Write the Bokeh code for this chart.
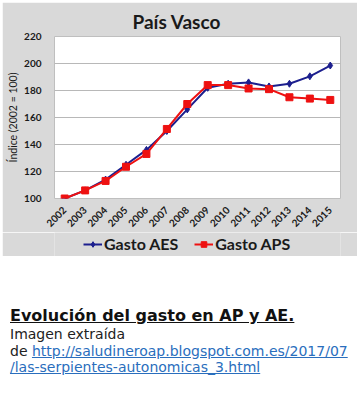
import math
from bokeh.plotting import figure
from bokeh.models import Legend, LegendItem, Title, FixedTicker, Div
from bokeh.layouts import column
from bokeh.embed import file_html
from bokeh.resources import INLINE

# ---- data ----
years = [2002, 2003, 2004, 2005, 2006, 2007, 2008, 2009, 2010, 2011, 2012, 2013, 2014, 2015]
gasto_aes = [100, 106, 114, 125, 136, 150, 166, 182, 185, 186, 183, 185, 190.5, 198.5]
gasto_aps = [100, 106, 113, 123.5, 133, 151.5, 170, 184, 184, 181.5, 181, 175, 174, 173]
y_ticks = [100, 120, 140, 160, 180, 200, 220]
series_names = ["Gasto AES", "Gasto APS"]

title_text = "País Vasco"
y_label = "Índice (2002 = 100)"
caption_title = "Evolución del gasto en AP y AE."
caption_line1 = "Imagen extraída"
caption_de = "de "
link1 = "http://saludineroap.blogspot.com.es/2017/07"
link2 = "/las-serpientes-autonomicas_3.html"

GRAY = "#d9d9d9"
BLUE = "#1c1f8e"
RED = "#ee1111"
CHART_FONT = "Lato"

p = figure(width=355, height=230, output_backend="svg", toolbar_location=None,
           x_range=(2001.5, 2015.5), y_range=(100, 220),
           min_border_left=52, min_border_right=17, min_border_top=34, min_border_bottom=33,
           border_fill_color=GRAY, background_fill_color="white", margin=(2, 0, 0, 2))
p.outline_line_color = "#bfbfbf"

t = Title(text=title_text, align="left", text_font=CHART_FONT, text_font_size="19px",
          text_font_style="bold", text_color="#1a1a1a", offset=78, standoff=8)
p.add_layout(t, "above")

style_aes = dict(line_color=BLUE, line_width=2)
style_aps = dict(line_color=RED, line_width=2)
p.line(years, gasto_aes, **style_aes)
p.scatter(years, gasto_aes, marker="diamond", size=7, fill_color=BLUE, line_color=BLUE)
p.line(years, gasto_aps, **style_aps)
p.scatter(years, gasto_aps, marker="square", size=7, fill_color=RED, line_color=RED)

p.xaxis.ticker = FixedTicker(ticks=years)
p.yaxis.ticker = FixedTicker(ticks=y_ticks)
p.xgrid.grid_line_color = None
p.ygrid.grid_line_color = "#b8b8b8"
p.ygrid.grid_line_width = 1
for ax in (p.xaxis, p.yaxis):
    ax.axis_line_color = None
    ax.major_tick_line_color = None
    ax.minor_tick_line_color = None
    ax.major_label_text_font = CHART_FONT
    ax.major_label_text_font_style = "bold"
    ax.major_label_text_color = "#1a1a1a"
p.xaxis.major_label_orientation = math.pi / 4
p.xaxis.major_label_text_font_size = "10px"
p.xaxis.major_label_standoff = 4
p.yaxis.major_label_text_font_size = "10px"
p.yaxis.major_label_standoff = 7
p.yaxis.axis_label = y_label
p.yaxis.axis_label_text_font = CHART_FONT
p.yaxis.axis_label_text_font_style = "normal"
p.yaxis.axis_label_text_font_size = "10.5px"
p.yaxis.axis_label_text_color = "#1a1a1a"
p.yaxis.axis_label_standoff = 2

# ---- legend strip (same series, legend only; data lies outside this strip's ranges) ----
lg = figure(width=355, height=24, output_backend="svg", toolbar_location=None,
            x_range=(0, 1), y_range=(0, 1), x_axis_type=None, y_axis_type=None,
            min_border_left=52, min_border_right=17, min_border_top=0, min_border_bottom=0,
            border_fill_color=GRAY, background_fill_color=GRAY, margin=(0, 0, 0, 2))
lg.outline_line_color = None
lg.grid.visible = False
la1 = lg.line(years, gasto_aes, **style_aes)
la2 = lg.scatter(years, gasto_aes, marker="diamond", size=7, fill_color=BLUE, line_color=BLUE)
lb1 = lg.line(years, gasto_aps, **style_aps)
lb2 = lg.scatter(years, gasto_aps, marker="square", size=7, fill_color=RED, line_color=RED)
legend = Legend(items=[LegendItem(label=series_names[0], renderers=[la1, la2]),
                       LegendItem(label=series_names[1], renderers=[lb1, lb2])],
                orientation="horizontal", location=(29, 3),
                label_text_font=CHART_FONT, label_text_font_style="bold",
                label_text_font_size="16px", label_text_color="#1a1a1a",
                background_fill_alpha=0, border_line_color=None,
                glyph_width=19, glyph_height=14, label_standoff=2, spacing=16,
                padding=0, margin=0)
lg.add_layout(legend)

LINK = "#2a6ebd"
cap_html = (
    '<div style="font-family:\'DejaVu Sans\',Verdana,sans-serif;color:#222;padding-left:10px;">'
    f'<div style="font-weight:bold;font-size:16px;color:#111;text-decoration:underline;'
    f'line-height:19px;margin:0;">{caption_title}</div>'
    f'<div style="font-size:14px;line-height:16.5px;margin-top:1px;">{caption_line1}<br>{caption_de}'
    f'<a href="{link1}{link2}" style="color:{LINK};text-decoration:underline;">{link1}<br>{link2}</a></div>'
    '</div>'
)
cap = Div(text=cap_html, width=360, height=90, margin=(50, 0, 0, 0))

layout = column(p, lg, cap, spacing=0)
open("out.html", "w").write(file_html(layout, INLINE))
